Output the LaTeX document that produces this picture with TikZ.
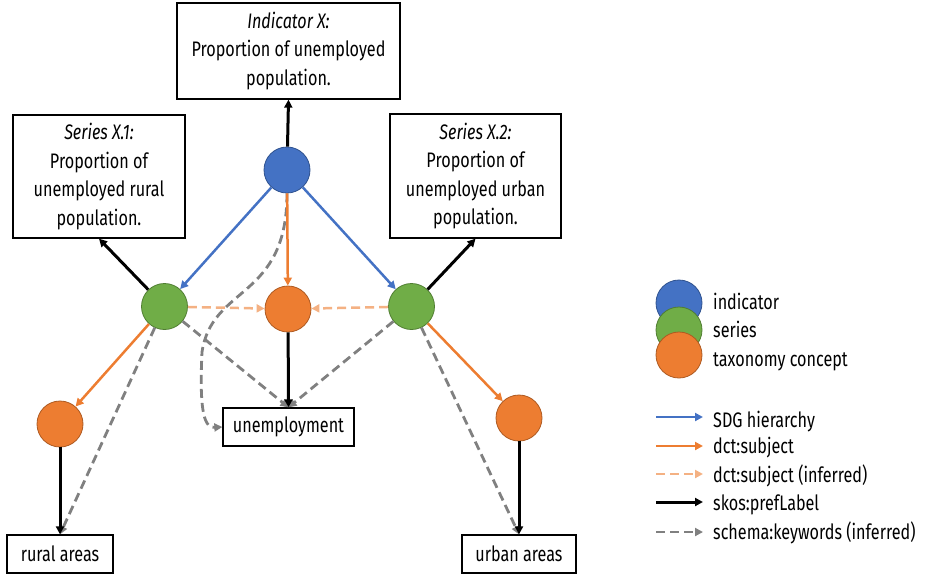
\documentclass[tikz,border=0pt]{standalone}
\usepackage{fontspec}
\setmainfont{Fira Sans}[FakeStretch=0.77]
\usetikzlibrary{arrows.meta}
\definecolor{cblue}{HTML}{4472C4}
\definecolor{cblueD}{HTML}{2F528F}
\definecolor{cgreen}{HTML}{70AD47}
\definecolor{cgreenD}{HTML}{507E32}
\definecolor{corange}{HTML}{ED7D31}
\definecolor{corangeD}{HTML}{AE5A21}
\definecolor{corangeL}{HTML}{F4B183}
\definecolor{cgray}{HTML}{808080}
\begin{document}
\begin{tikzpicture}[x=1pt,y=-1pt,
  txt/.style={font=\fontsize{21}{28.5}\selectfont},
  box/.style={draw=black, line width=1.3pt, fill=white, align=center, inner sep=0pt, txt},
  dot/.style={circle, minimum size=46pt, inner sep=0pt, line width=0.8pt},
  indc/.style={dot, fill=cblue, draw=cblueD},
  serc/.style={dot, fill=cgreen, draw=cgreenD},
  taxc/.style={dot, fill=corange, draw=corangeD},
  tipx/.style={-{Triangle[length=8pt,width=8pt]}},
  hier/.style={tipx, draw=cblue, line width=2.5pt},
  subj/.style={tipx, draw=corange, line width=2.5pt},
  subjinf/.style={tipx, draw=corangeL, line width=2.5pt, dash pattern=on 9pt off 5pt},
  pref/.style={tipx, draw=black, line width=3pt},
  kw/.style={tipx, draw=cgray, line width=2.8pt, dash pattern=on 9pt off 5pt},
  lgtxt/.style={txt, anchor=base west, inner sep=0pt},
]
\useasboundingbox (0,0) rectangle (932,582);

% boxes
\node[box, minimum width=223pt, minimum height=96pt] (ind) at (288.5,51)
  {\textit{Indicator X:}\\Proportion of unemployed\\population.};
\node[box, minimum width=172pt, minimum height=123pt] (s1) at (99,176.5)
  {\textit{Series X.1:}\\Proportion of\\unemployed rural\\population.};
\node[box, minimum width=171pt, minimum height=124pt] (s2) at (475.5,176)
  {\textit{Series X.2:}\\Proportion of\\unemployed urban\\population.};
\node[box, minimum width=131pt, minimum height=38pt] (unemp) at (288.5,427) {unemployment};
\node[box, minimum width=106pt, minimum height=38pt] (rural) at (60,554) {rural areas};
\node[box, minimum width=114pt, minimum height=38pt] (urban) at (519,554) {urban areas};

% circles
\node[indc] (bI) at (287,170) {};
\node[serc] (gL) at (164.5,306.5) {};
\node[serc] (gR) at (411.5,306.5) {};
\node[taxc] (oC) at (288,309) {};
\node[taxc] (oL) at (60,424) {};
\node[taxc] (oR) at (519,418) {};

% connectors
\coordinate (bend) at (202,352);
\draw[kw] (bI.south) .. controls (287,300) and (212,285) .. (bend)
  .. controls (199,415) and (205,428) .. (unemp.west);
\draw[kw] (gL) -- (unemp.north);
\draw[kw] (gR) -- (unemp.north);
\draw[kw] (gL) -- (rural.north);
\draw[kw] (gR) -- (urban.north);

\draw[pref] (bI) -- (ind.south);
\draw[pref] (gL) -- (s1.south);
\draw[pref] (gR) -- (s2.south);
\draw[pref] (oC) -- (unemp.north);
\draw[pref] (oL) -- (rural.north);
\draw[pref] (oR) -- (urban.north);

\draw[hier] (bI) -- (gL);
\draw[hier] (bI) -- (gR);
\draw[subj] (bI) -- (oC);
\draw[subj] (gL) -- (oL);
\draw[subj] (gR) -- (oR);
\draw[subjinf] (gL) -- (oC);
\draw[subjinf] (gR) -- (oC);

% legend: node kinds
\node[indc] (lgI) at (679,303) {};
\node[serc] (lgS) at (679,330) {};
\node[taxc] (lgT) at (679,355) {};
\node[lgtxt] (tI) at (713,309) {indicator};
\node[lgtxt] (tS) at (713,337) {series};
\node[lgtxt] (tT) at (713,366) {taxonomy concept};

% legend: connector kinds
\coordinate (a1) at (656,417); \coordinate (b1) at (703,417);
\coordinate (a2) at (656,446); \coordinate (b2) at (703,446);
\coordinate (a3) at (656,474); \coordinate (b3) at (703,474);
\coordinate (a4) at (656,502); \coordinate (b4) at (703,502);
\coordinate (a5) at (656,532); \coordinate (b5) at (703,532);
\draw[hier] (a1) -- (b1);
\draw[subj] (a2) -- (b2);
\draw[subjinf] (a3) -- (b3);
\draw[pref] (a4) -- (b4);
\draw[kw] (a5) -- (b5);
\node[lgtxt] (t1) at (713,427) {SDG hierarchy};
\node[lgtxt] (t2) at (713,453) {dct:subject};
\node[lgtxt] (t3) at (713,482) {dct:subject (inferred)};
\node[lgtxt] (t4) at (713,510) {skos:prefLabel};
\node[lgtxt] (t5) at (713,539) {schema:keywords (inferred)};
\end{tikzpicture}
\end{document}
